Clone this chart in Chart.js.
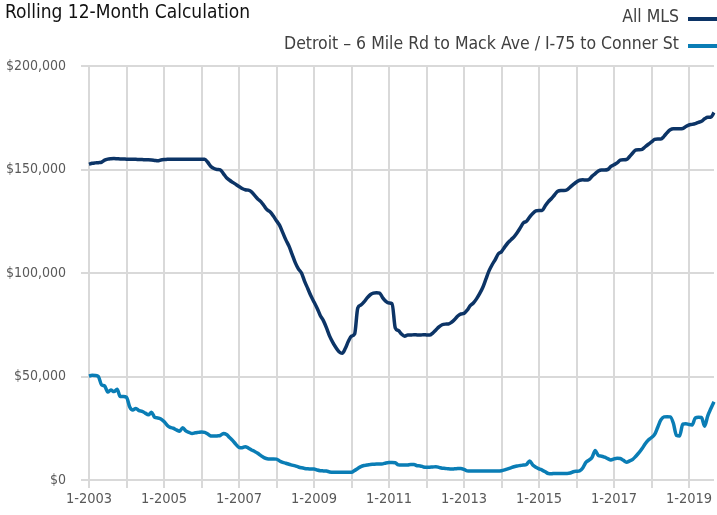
<!DOCTYPE html>
<html><head><meta charset="utf-8">
<script src="https://cdn.jsdelivr.net/npm/chart.js@4/dist/chart.umd.min.js"></script>
<style>html,body{margin:0;padding:0;background:#fff;overflow:hidden}#wrap{width:717px;height:515px}</style>
</head><body><div id="wrap"><canvas id="c" width="717" height="515"></canvas></div>
<script>
const FONT = "'Liberation Sans Narrow','Arial Narrow','DejaVu Sans Condensed',sans-serif";
const titleText = 'Rolling 12-Month Calculation';
const seriesNames = ['All MLS', 'Detroit \u2013 6 Mile Rd to Mack Ave / I-75 to Conner St'];
const tickLabels = ['1-2003','1-2005','1-2007','1-2009','1-2011','1-2013','1-2015','1-2017','1-2019'];
const yTicks = [0, 50000, 100000, 150000, 200000];

// monthly categories Jan 2003 .. Sep 2019
const categories = [];
for (let y = 2003; y <= 2019; y++) {
  for (let m = 1; m <= 12; m++) {
    if (y === 2019 && m > 9) break;
    categories.push(m + '-' + y);
  }
}

const allMLS = [
152500,153000,153200,153300,153500,154500,155000,155200,155300,155200,155100,155100,
155000,155000,154900,154900,154800,154800,154700,154700,154600,154400,154200,154600,
154800,154900,155000,155000,155000,155000,155000,155000,155000,155000,155000,155000,
155000,155000,153500,151500,150500,150000,149800,148000,146000,144800,143800,142800,
141800,140800,140200,140000,139200,137500,135800,134500,132500,130500,129500,127500,
125200,123000,119500,116000,113000,109000,105000,102000,100000,96000,92500,89000,
86000,83000,79500,77000,73500,69500,66500,64000,62000,61200,63500,67000,
69500,70500,83000,84500,86000,88000,89500,90300,90500,90300,88000,86300,
85500,85200,73500,72200,70500,69500,70000,70000,70200,70100,70000,70200,
70100,70000,71000,72500,74000,75000,75300,75400,76200,77500,79200,80200,
80500,82000,84200,85500,87500,90000,93000,97000,101000,104000,106500,109300,
110300,112500,114500,116000,117500,119500,121800,124200,125000,127000,128800,130000,
130200,130200,132500,134500,136000,137800,139500,139800,139800,140200,141500,142800,
144000,144800,145000,144900,145200,146800,148000,149300,149800,149800,150000,151500,
152300,153200,154500,154700,154800,156300,158000,159400,159500,159700,161000,162200,
163300,164500,164700,164700,166000,167800,169200,169700,169700,169700,169800,170800,
171500,171800,172200,172800,173300,174500,175300,175300,177500
];

const detroit = [
50200,50600,50500,50000,46000,45400,42500,43500,42700,43800,40300,40300,
40000,35400,33800,34600,33500,33200,32300,31500,32700,30300,30000,29500,
28300,26500,25400,25000,24200,23600,25300,23700,23000,22500,22800,23000,
23200,23000,22200,21300,21200,21300,21500,22500,22000,20500,19000,17200,
15800,15600,16100,15400,14500,13800,12900,11800,10800,10300,10200,10200,
10100,9200,8500,8100,7600,7200,6800,6300,5900,5600,5400,5300,
5300,4800,4500,4400,4300,3900,3700,3700,3700,3700,3700,3700,
3700,4600,5600,6500,7000,7200,7500,7600,7700,7700,7800,8200,
8400,8400,8300,7300,7200,7200,7300,7500,7500,6900,6800,6300,
6100,6200,6300,6400,6100,5700,5600,5400,5300,5400,5500,5600,
5100,4400,4300,4300,4300,4300,4400,4300,4300,4400,4300,4300,
4500,4900,5400,5900,6400,6800,7000,7200,7500,9200,7300,6200,
5400,4800,4000,3100,3000,3200,3200,3200,3200,3200,3400,4000,
4200,4400,5800,8500,9600,11000,14200,11800,11500,11000,10300,9700,
10200,10500,10400,9500,8600,9200,10000,11500,13200,15200,17500,19300,
20500,22000,25500,29000,30500,30600,30500,27400,21500,21300,27000,27200,
26800,26600,30000,30300,30200,26000,31000,34500,37800
];

const COLORS = ['#0c3466', '#0a7db5'];
const GRID = '#d9d9d9';

const headerPlugin = {
  id: 'header',
  afterDraw(chart) {
    const c = chart.ctx;
    c.save();
    c.textBaseline = 'middle';
    c.textAlign = 'left';
    c.fillStyle = '#111111';
    c.font = '19px ' + FONT;
    c.fillText(titleText, 5, 13);
    c.textAlign = 'right';
    c.font = '17.5px ' + FONT;
    const rows = [17, 44];
    chart.data.datasets.forEach((ds, i) => {
      const y = rows[i];
      c.fillStyle = '#404040';
      c.fillText(ds.label, 679, y);
      c.strokeStyle = ds.borderColor;
      c.lineWidth = 4;
      c.beginPath();
      c.moveTo(688, y + 2);
      c.lineTo(717, y + 2);
      c.stroke();
    });
    c.restore();
  }
};

new Chart(document.getElementById('c'), {
  type: 'line',
  data: {
    labels: categories,
    datasets: [
      { label: seriesNames[0], data: allMLS, borderColor: COLORS[0], borderWidth: 3.5, pointRadius: 0, cubicInterpolationMode: 'monotone', fill: false },
      { label: seriesNames[1], data: detroit, borderColor: COLORS[1], borderWidth: 3.5, pointRadius: 0, cubicInterpolationMode: 'monotone', fill: false }
    ]
  },
  options: {
    responsive: false,
    animation: false,
    devicePixelRatio: 1,
    layout: { padding: { top: 66, left: 0, right: 0, bottom: 0 } },
    plugins: { legend: { display: false }, title: { display: false }, tooltip: { enabled: false } },
    scales: {
      x: {
        type: 'category',
        offset: false,
        grid: {
          color: c => (c.index % 12 === 0 ? GRID : 'rgba(0,0,0,0)'),
          tickColor: c => (c.index % 12 === 0 ? GRID : 'rgba(0,0,0,0)'),
          lineWidth: 2,
          tickLength: 8
        },
        border: { display: false },
        ticks: {
          autoSkip: false, maxRotation: 0, minRotation: 0, padding: 3,
          color: '#595959', font: { family: FONT, size: 14.5 },
          callback: function (v) { const l = this.getLabelForValue(v); return tickLabels.includes(l) ? l : ''; }
        },
        afterFit: s => { s.height = 35; }
      },
      y: {
        min: 0, max: 200000,
        afterBuildTicks: s => { s.ticks = yTicks.map(v => ({ value: v })); },
        grid: { color: GRID, lineWidth: 2, tickLength: 8 },
        border: { display: true, color: GRID, width: 2 },
        ticks: {
          padding: 15, color: '#595959', font: { family: FONT, size: 14 },
          callback: v => '$' + v.toLocaleString('en-US')
        },
        afterFit: s => { s.width = 89; }
      }
    }
  },
  plugins: [headerPlugin]
});
</script></body></html>
